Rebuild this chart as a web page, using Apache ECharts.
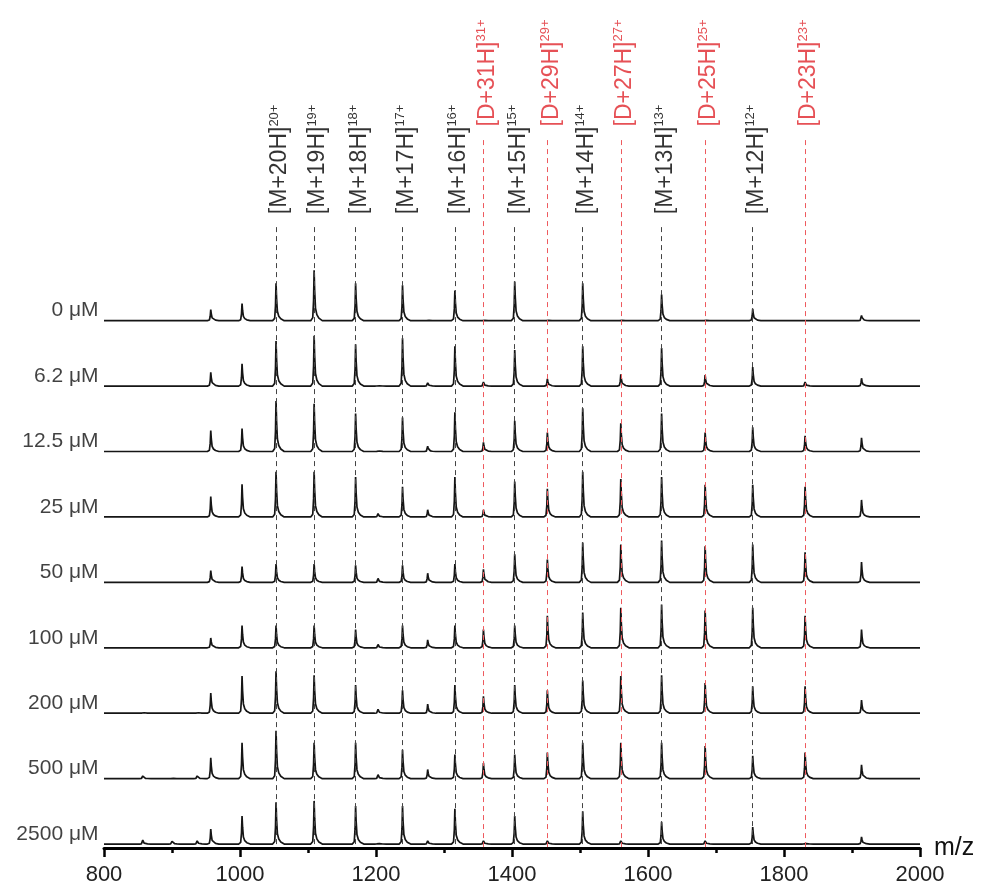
<!DOCTYPE html>
<html>
<head>
<meta charset="utf-8">
<title>ESI-MS titration</title>
<script src="https://cdn.jsdelivr.net/npm/echarts@6/dist/echarts.min.js"></script>
<style>
  html, body { margin: 0; padding: 0; background: #fff; }
  #chart { width: 983px; height: 888px; }
</style>
</head>
<body>
<div id="chart"></div>
<script>
// trace names (top to bottom)
var traceNames = ['0 μM', '6.2 μM', '12.5 μM', '25 μM', '50 μM', '100 μM', '200 μM', '500 μM', '2500 μM'];

// peak positions (m/z)
var peakMz = [957, 1003, 1053, 1109, 1170, 1203, 1239, 1276, 1316, 1358, 1404, 1452, 1504, 1560, 1620, 1684, 1754, 1831, 1914];

// peak heights, % of the row spacing, one array per trace
var int0 = [17, 26, 57, 77, 57, 0, 54, 2, 46, 2, 60, 2, 57, 2, 40, 2, 18, 0, 8];
var int6 = [21, 34, 69, 77, 64, 2, 73, 5, 61, 6, 55, 11, 61, 18, 58, 17, 29, 6, 12];
var int12 = [32, 35, 77, 73, 58, 3, 52, 8, 60, 14, 47, 29, 66, 43, 58, 29, 37, 24, 21];
var int25 = [31, 50, 69, 69, 61, 5, 46, 11, 61, 11, 54, 43, 69, 58, 61, 49, 49, 46, 26];
var int50 = [18, 24, 28, 28, 26, 6, 26, 14, 28, 20, 43, 35, 61, 58, 64, 55, 58, 46, 31];
var int100 = [15, 34, 34, 34, 28, 5, 34, 12, 34, 28, 34, 49, 54, 61, 66, 57, 61, 49, 28];
var int200 = [31, 57, 64, 58, 43, 6, 35, 14, 43, 26, 43, 35, 50, 57, 58, 46, 41, 41, 20];
var int500 = [32, 55, 73, 55, 55, 6, 44, 14, 37, 24, 37, 40, 55, 55, 55, 50, 35, 40, 21];
var int2500 = [23, 43, 64, 66, 58, 3, 58, 5, 54, 5, 43, 5, 50, 5, 34, 5, 26, 3, 11];
var intensities = [int0, int6, int12, int25, int50, int100, int200, int500, int2500];

// small bumps on the baseline
var minorMz = [857, 900, 937];
var minorHeights = [
  [0, 0, 0], [0, 0, 0], [0, 0, 0], [0, 0, 0], [0, 0, 0],
  [0, 0, 0], [3, 0, 3], [4, 2, 4], [6, 4, 5]
];

// annotated ions
var mLabelMz = [1053, 1109, 1170, 1239, 1316, 1404, 1504, 1620, 1754];
var mCharges = [20, 19, 18, 17, 16, 15, 14, 13, 12];
var dLabelMz = [1358, 1452, 1560, 1684, 1831];
var dCharges = [31, 29, 27, 25, 23];

var xTicks = [800, 1000, 1200, 1400, 1600, 1800, 2000];

// shape of one peak: [m/z offset, fraction of height]
var peakShape = [[-5, 0], [-2, 0.06], [-0.8, 0.4], [0, 1], [0.8, 0.6], [2, 0.25], [4, 0.12], [7, 0.05], [12, 0]];

var rowSpacing = 100;
var yMax = 1290;
var font = '"Liberation Sans", Arial, sans-serif';

function baseOf(i) {
  return 6 + (traceNames.length - 1 - i) * rowSpacing;
}

function buildTrace(i) {
  var base = baseOf(i);
  var peaks = peakMz.map(function (mz, k) { return [mz, intensities[i][k]]; })
    .concat(minorMz.map(function (mz, k) { return [mz, minorHeights[i][k]]; }))
    .filter(function (p) { return p[1] > 0; })
    .sort(function (a, b) { return a[0] - b[0]; });
  var pts = [[xTicks[0], base]];
  peaks.forEach(function (p) {
    peakShape.forEach(function (s) {
      pts.push([p[0] + s[0], base + p[1] * s[1]]);
    });
  });
  pts.push([xTicks[xTicks.length - 1], base]);
  return pts;
}

var series = [];

traceNames.forEach(function (name, i) {
  series.push({
    type: 'line',
    name: name,
    data: buildTrace(i),
    showSymbol: false,
    symbol: 'none',
    lineStyle: { color: '#151515', width: 1.7 },
    z: 4,
    silent: true
  });
});

// trace labels at the left
series.push({
  type: 'scatter',
  data: traceNames.map(function (n, i) { return { value: [xTicks[0], baseOf(i)], name: n }; }),
  symbolSize: 1,
  itemStyle: { color: 'rgba(0,0,0,0)' },
  silent: true,
  label: {
    show: true,
    position: 'left',
    distance: 5,
    offset: [0, -10],
    formatter: function (p) { return p.name; },
    fontSize: 21,
    fontFamily: font,
    color: '#111'
  }
});

function ionSeries(mzs, charges, prefix, yLabel, yLine, color, lineColor) {
  return {
    type: 'scatter',
    data: mzs.map(function (mz, k) {
      return { value: [mz, yLabel], name: '[' + prefix + '+' + charges[k] + 'H]', charge: charges[k] + '+' };
    }),
    symbolSize: 1,
    itemStyle: { color: 'rgba(0,0,0,0)' },
    silent: true,
    z: 2,
    label: {
      show: true,
      position: 'top',
      distance: 0,
      rotate: 90,
      align: 'left',
      verticalAlign: 'middle',
      offset: [0, 4],
      formatter: function (p) { return '{main|' + p.data.name + '}{sup|' + p.data.charge + '}'; },
      fontSize: 23,
      fontFamily: font,
      color: color,
      rich: {
        main: { fontSize: 23, fontFamily: font, color: color, lineHeight: 25 },
        sup: { fontSize: 13, fontFamily: font, color: color, verticalAlign: 'top', lineHeight: 25 }
      }
    },
    markLine: {
      silent: true,
      symbol: 'none',
      label: { show: false },
      lineStyle: { color: lineColor, type: [5, 4], width: 1 },
      data: mzs.map(function (mz) {
        return [{ coord: [mz, yLine] }, { coord: [mz, 0] }];
      })
    }
  };
}

series.push(ionSeries(mLabelMz, mCharges, 'M', 968, 949, '#000', '#444'));
series.push(ionSeries(dLabelMz, dCharges, 'D', 1102, 1082, '#e0262c', '#ee5a5e'));

var chart = echarts.init(document.getElementById('chart'));
chart.setOption({
  animation: false,
  backgroundColor: '#fff',
  grid: { left: 104, right: 63, top: 4, bottom: 40 },
  xAxis: {
    type: 'value',
    min: xTicks[0],
    max: xTicks[xTicks.length - 1],
    interval: 200,
    name: 'm/z',
    nameLocation: 'end',
    nameGap: 14,
    nameTextStyle: { fontSize: 25, fontFamily: font, color: '#111', verticalAlign: 'middle' },
    axisLine: { lineStyle: { color: '#000', width: 3 } },
    axisTick: { length: 9, lineStyle: { color: '#000', width: 2.5 } },
    minorTick: { show: true, splitNumber: 2, length: 5, lineStyle: { color: '#000', width: 2.5 } },
    splitLine: { show: false },
    axisLabel: {
      fontSize: 22, fontFamily: font, color: '#222', margin: 16,
      formatter: function (v) { return String(v); }
    }
  },
  yAxis: {
    type: 'value',
    min: 0,
    max: yMax,
    show: false,
    splitLine: { show: false }
  },
  series: series
});
</script>
</body>
</html>
